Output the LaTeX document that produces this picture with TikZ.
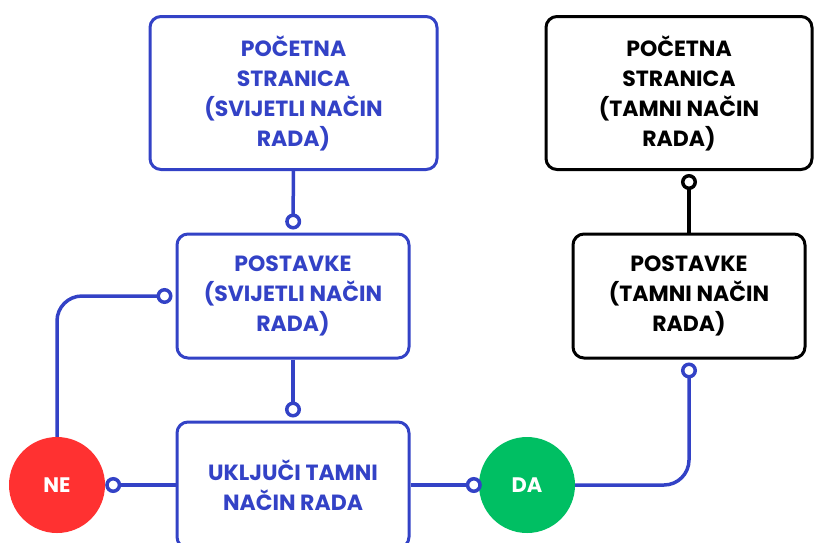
\documentclass[tikz,border=0pt]{standalone}
\usepackage{fontspec}
\setmainfont{Poppins}
\usetikzlibrary{arrows.meta}
\definecolor{plava}{HTML}{3342C6}
\definecolor{crvena}{HTML}{FF3131}
\definecolor{zelena}{HTML}{00BF63}
\begin{document}
\begin{tikzpicture}[x=1pt, y=-1pt,
        kutija/.style={draw, line width=3pt, rounded corners=11pt, align=center,
            font=\fontsize{22}{30}\selectfont\bfseries},
        svijetla/.style={kutija, plava, text=plava},
        tamna/.style={kutija, black},
        odluka/.style={circle, minimum size=96pt, inner sep=0pt, text=white,
            font=\fontsize{21}{30}\selectfont\bfseries},
        veza/.style={line width=3.5pt, -{Circle[open, length=16pt, width=16pt]}}]
    \useasboundingbox (0,0) rectangle (824,542);

    \node[svijetla, minimum width=287pt, minimum height=153pt] (pocS) at (293.5,93)
        {POČETNA\\STRANICA\\(SVIJETLI NAČIN\\RADA)};
    \node[tamna, minimum width=266pt, minimum height=153pt] (pocT) at (679,93)
        {POČETNA\\STRANICA\\(TAMNI NAČIN\\RADA)};

    \node[svijetla, minimum width=232pt, minimum height=124pt] (postS) at (293,296)
        {POSTAVKE\\(SVIJETLI NAČIN\\RADA)};
    \node[tamna, minimum width=232pt, minimum height=124pt] (postT) at (689,296)
        {POSTAVKE\\(TAMNI NAČIN\\RADA)};

    \node[svijetla, minimum width=232pt, minimum height=126pt] (ukljuci) at (293,485)
        {UKLJUČI TAMNI\\NAČIN RADA};

    \node[odluka, fill=crvena] (ne) at (57,485) {NE};
    \node[odluka, fill=zelena] (da) at (527,485) {DA};

    % veze
    \draw[veza, plava, shorten >=3pt] (pocS) -- (postS);
    \draw[veza, plava, shorten >=3pt] (postS) -- (ukljuci);
    \draw[veza, plava, shorten >=3pt, rounded corners=25pt] (ne.north) |- (postS.west);
    \draw[veza, plava] (ukljuci.west) -- (ne.east);
    \draw[veza, plava, shorten >=-3pt] (ukljuci.east) -- (da.west);
    \draw[veza, plava, shorten >=3pt, rounded corners=25pt] (da.east) -| (postT.south);
    \draw[veza, black, shorten >=3pt] (postT.north) -- (postT.north |- pocT.south);
\end{tikzpicture}
\end{document}
